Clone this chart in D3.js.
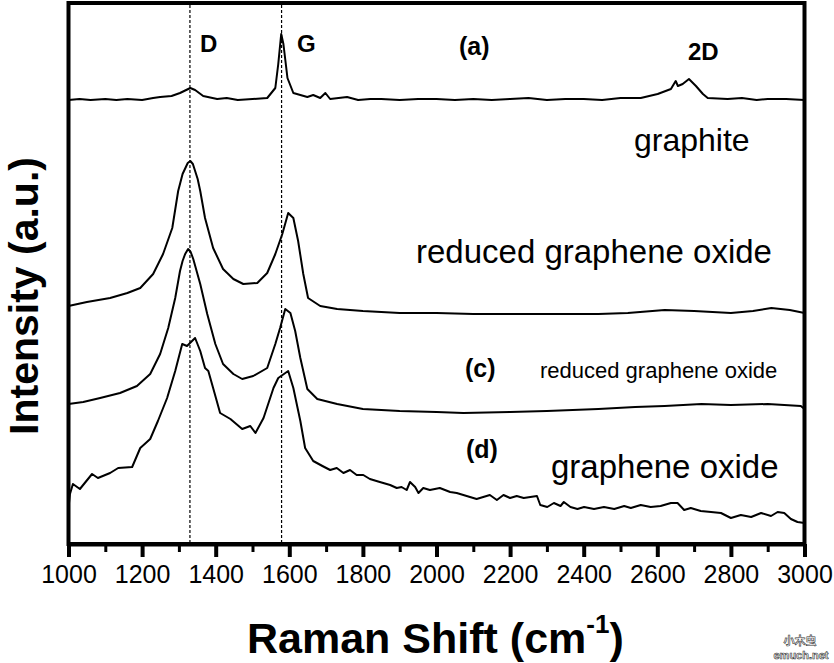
<!DOCTYPE html>
<html>
<head>
<meta charset="utf-8">
<script src="https://cdn.jsdelivr.net/npm/d3@7"></script>
<style>
	body { margin: 0; background: #fff; }
	svg { display: block; }
	text { font-family: "Liberation Sans", Arial, sans-serif; }
</style>
</head>
<body>
<script>
// Raman shift (cm-1) and intensity (a.u.)
var wnA = [1000, 1030, 1060, 1100, 1130, 1160, 1200, 1230, 1249, 1280, 1303, 1331, 1344, 1366, 1404, 1430, 1460, 1500, 1540, 1562, 1570, 1578, 1584, 1595, 1611, 1649, 1665, 1684, 1698, 1711, 1757, 1787, 1820, 1850, 1900, 1950, 2000, 2050, 2100, 2150, 2200, 2250, 2300, 2350, 2400, 2450, 2500, 2555, 2601, 2637, 2650, 2656, 2669, 2686, 2705, 2724, 2737, 2791, 2830, 2870, 2900, 2950, 3000];
var intA = [444, 445, 444, 445, 444, 445, 444, 446, 447, 448, 451, 456, 454, 448, 445, 446, 444, 445, 446, 456, 480, 510, 500, 466, 451, 447, 449, 446, 451, 445, 447, 444, 445, 445, 444, 445, 445, 444, 445, 444, 445, 446, 444, 445, 445, 444, 446, 446, 450, 455, 463, 458, 460, 465, 458, 450, 446, 445, 446, 444, 445, 445, 444];

var wnB = [1000, 1050, 1113, 1160, 1195, 1230, 1257, 1282, 1298, 1310, 1324, 1331, 1338, 1351, 1358, 1371, 1393, 1420, 1448, 1475, 1513, 1540, 1562, 1581, 1597, 1611, 1624, 1638, 1651, 1684, 1730, 1800, 1900, 2000, 2100, 2200, 2300, 2440, 2520, 2620, 2700, 2800, 2860, 2910, 2960, 3000];
var intB = [238, 242, 246, 251, 256, 270, 290, 316, 353, 370, 381, 383, 380, 365, 353, 326, 296, 275, 265, 260, 261, 271, 290, 310, 331, 326, 303, 270, 246, 238, 235, 233, 231, 231, 230, 230, 230, 230, 231, 234, 233, 231, 233, 236, 234, 231];

var wnC = [1000, 1040, 1086, 1140, 1186, 1222, 1249, 1271, 1290, 1303, 1310, 1317, 1325, 1332, 1339, 1358, 1377, 1399, 1420, 1448, 1472, 1502, 1540, 1562, 1575, 1589, 1603, 1616, 1630, 1649, 1676, 1730, 1800, 1900, 2000, 2073, 2200, 2300, 2440, 2540, 2620, 2720, 2800, 2900, 2990, 3000];
var intC = [140, 142, 146, 151, 158, 170, 190, 216, 246, 273, 283, 290, 295, 292, 285, 260, 230, 200, 180, 170, 165, 168, 176, 200, 216, 235, 231, 213, 186, 155, 145, 140, 135, 133, 132, 131, 132, 133, 135, 137, 138, 140, 139, 140, 138, 135];

var wnD = [1000, 1004, 1012, 1031, 1064, 1080, 1113, 1135, 1173, 1195, 1222, 1243, 1268, 1290, 1309, 1322, 1344, 1358, 1371, 1380, 1393, 1412, 1440, 1472, 1494, 1508, 1530, 1557, 1570, 1597, 1611, 1630, 1643, 1665, 1690, 1711, 1729, 1747, 1765, 1783, 1801, 1819, 1846, 1874, 1892, 1905, 1919, 1928, 1942, 1951, 1964, 1982, 2009, 2037, 2055, 2073, 2091, 2109, 2127, 2145, 2164, 2182, 2200, 2218, 2237, 2255, 2273, 2282, 2301, 2319, 2337, 2346, 2364, 2383, 2401, 2428, 2455, 2483, 2510, 2528, 2555, 2582, 2609, 2637, 2655, 2673, 2691, 2718, 2746, 2773, 2800, 2827, 2855, 2882, 2909, 2927, 2945, 2963, 2981, 3000];
var intD = [36, 50, 60, 55, 70, 66, 71, 76, 77, 96, 105, 123, 146, 173, 200, 198, 206, 193, 176, 173, 156, 131, 125, 115, 118, 111, 126, 156, 166, 173, 156, 123, 96, 83, 78, 74, 76, 71, 74, 69, 69, 65, 62, 59, 56, 57, 54, 62, 57, 51, 56, 54, 56, 52, 51, 49, 47, 45, 47, 49, 44, 49, 46, 48, 46, 47, 48, 39, 37, 41, 38, 42, 37, 35, 37, 35, 37, 35, 38, 36, 39, 37, 38, 41, 41, 34, 36, 33, 32, 31, 26, 29, 27, 31, 28, 32, 31, 25, 22, 21];

// D and G band positions (dashed guides)
var bandPos = [1330, 1579];

var majorTicks = [1000, 1200, 1400, 1600, 1800, 2000, 2200, 2400, 2600, 2800, 3000];
var minorTicks = [1100, 1300, 1500, 1700, 1900, 2100, 2300, 2500, 2700, 2900];

var W = 834, H = 663;
var plotL = 68.5, plotR = 804.5, plotT = 3, plotB = 544;

var svg = d3.select("body").append("svg")
	.attr("width", W)
	.attr("height", H);

var x = d3.scaleLinear().domain([1000, 3000]).range([plotL, plotR]);
var y = d3.scaleLinear().domain([0, 541]).range([plotB, plotT]);

function zip(a, b) {
	return a.map(function(d, i) { return [d, b[i]]; });
}

var line = d3.line()
	.x(function(d) { return x(d[0]); })
	.y(function(d) { return y(d[1]); });

// dashed guides for D and G
svg.selectAll(".band")
	.data(bandPos)
	.enter().append("line")
		.attr("class", "band")
		.attr("x1", function(d) { return x(d); })
		.attr("x2", function(d) { return x(d); })
		.attr("y1", plotT + 2)
		.attr("y2", plotB)
		.attr("stroke", "#000")
		.attr("stroke-width", 1.2)
		.attr("stroke-dasharray", "3,2");

// spectra
var series = [zip(wnA, intA), zip(wnB, intB), zip(wnC, intC), zip(wnD, intD)];
svg.selectAll(".spec")
	.data(series)
	.enter().append("path")
		.attr("class", "spec")
		.attr("d", line)
		.attr("fill", "none")
		.attr("stroke", "#000")
		.attr("stroke-width", 2)
		.attr("stroke-linejoin", "round");

// frame
svg.append("rect")
	.attr("x", plotL)
	.attr("y", plotT)
	.attr("width", plotR - plotL)
	.attr("height", plotB - plotT)
	.attr("fill", "none")
	.attr("stroke", "#000")
	.attr("stroke-width", 4);

// minor ticks
svg.append("g")
	.attr("transform", "translate(0," + plotB + ")")
	.call(d3.axisBottom(x).tickValues(minorTicks).tickSize(8).tickSizeOuter(0).tickFormat(""))
	.call(function(g) { g.select(".domain").remove(); })
	.selectAll("line").attr("stroke-width", 3);

// major ticks and labels
var xAxis = svg.append("g")
	.attr("transform", "translate(0," + plotB + ")")
	.call(d3.axisBottom(x).tickValues(majorTicks).tickSize(13).tickSizeOuter(0).tickPadding(8).tickFormat(d3.format("d")));
xAxis.select(".domain").attr("stroke-width", 4);
xAxis.selectAll("line").attr("stroke-width", 4);
xAxis.selectAll("text")
	.attr("fill", "#000")
	.style("font-family", "'Liberation Sans', Arial, sans-serif")
	.style("font-size", "25px");

// band and curve labels
function label(txt, px, py, size, bold) {
	return svg.append("text")
		.attr("x", px)
		.attr("y", py)
		.style("font-size", size + "px")
		.style("font-weight", bold ? "bold" : "normal")
		.text(txt);
}

label("D", 200, 52, 24, true);
label("G", 297, 52, 24, true);
label("(a)", 459, 55, 25, true);
label("2D", 688, 60, 24, true);
label("graphite", 634, 151, 32, false);
label("reduced graphene oxide", 416, 263, 33, false);
label("(c)", 465, 377, 25, true);
label("reduced graphene oxide", 540, 378, 22, false);
label("(d)", 466, 458, 25, true);
label("graphene oxide", 551, 478, 33, false);

// axis titles
svg.append("text")
	.attr("transform", "translate(38,296) rotate(-90)")
	.style("text-anchor", "middle")
	.style("font-size", "41px")
	.style("font-weight", "bold")
	.text("Intensity (a.u.)");

var xt = svg.append("text")
	.attr("x", 247)
	.attr("y", 653)
	.style("font-size", "43px")
	.style("font-weight", "bold");
xt.append("tspan").text("Raman Shift (cm");
xt.append("tspan").attr("dy", -20).style("font-size", "26px").text("-1");
xt.append("tspan").attr("dy", 20).text(")");

// watermark
var wm = svg.append("g")
	.attr("fill", "#fff")
	.attr("stroke", "#333")
	.attr("stroke-width", 0.6)
	.style("font-size", "11px")
	.style("font-weight", "bold");
wm.append("text").attr("x", 800).attr("y", 645).style("text-anchor", "middle")
	.style("font-family", "'Noto Sans CJK SC', sans-serif").text("小木虫");
wm.append("text").attr("x", 801).attr("y", 659).style("text-anchor", "middle").text("emuch.net");
</script>
</body>
</html>
